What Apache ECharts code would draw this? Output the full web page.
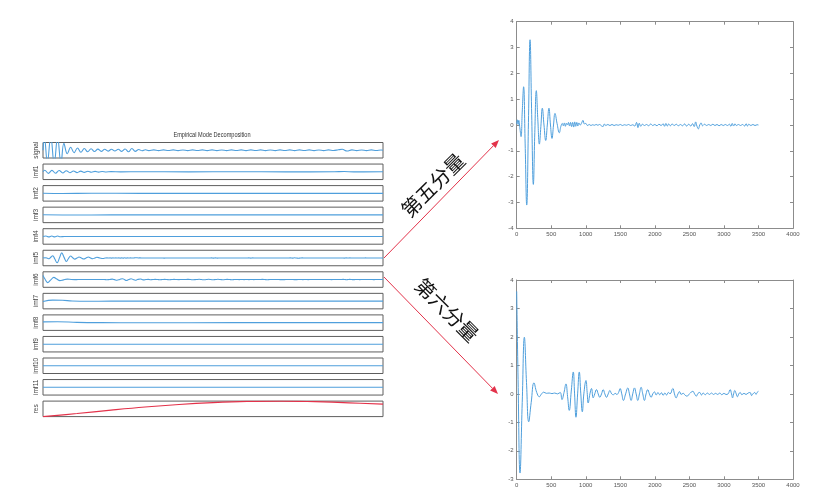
<!DOCTYPE html>
<html><head><meta charset="utf-8">
<script src="https://cdn.jsdelivr.net/npm/echarts@6.0.0/dist/echarts.min.js"></script>
<style>html,body{margin:0;padding:0;background:#fff}#c{width:831px;height:502px}</style>
</head><body><div id="c"></div>
<script>
// ---------- data ----------
const panelNames = ['signal','imf1','imf2','imf3','imf4','imf5','imf6','imf7','imf8','imf9','imf10','imf11','res'];
const panelRanges = [[-1,1],[-1,1],[-1,1],[-1,1],[-1,1],[-5,5],[-7,7],[-1,1],[-1,1],[-1,1],[-1,1],[-1,1],[0,1]];
const xTicks = [0,500,1000,1500,2000,2500,3000,3500,4000];
const yTicksTop = [-4,-3,-2,-1,0,1,2,3,4];
const yTicksBottom = [-3,-2,-1,0,1,2,3,4];
const titleText = 'Empirical Mode Decomposition';
const arrowLabels = ['第五分量','第六分量'];

const signalPairs = [[0,0],[15,1.6],[45,-1.6],[80,1.8],[115,-1.8],[150,1.7],[185,-1.7],[215,0.9],[250,-0.45],[285,0.38],[320,-0.32],[355,0.3],[390,-0.26],[425,0.22],[460,-0.2],[495,0.2],[530,-0.17],[565,0.15],[600,-0.14],[635,0.13],[670,-0.12],[705,0.12],[740,-0.1],[775,0.13],[810,-0.14],[845,0.17],[880,-0.2],[915,0.22],[950,-0.15],[985,0.1],[1020,-0.07],[1055,0.06],[1090,-0.05],[1140,0.05],[1190,-0.05],[1240,0.05],[1290,-0.04],[1340,0.05],[1390,-0.05],[1440,0.04],[1490,-0.05],[1540,0.05],[1590,-0.04],[1640,0.05],[1690,-0.05],[1740,0.05],[1790,-0.05],[1840,0.04],[1890,-0.05],[1940,0.05],[1990,-0.04],[2040,0.05],[2090,-0.05],[2140,0.05],[2190,-0.04],[2240,0.05],[2290,-0.05],[2340,0.04],[2390,-0.05],[2440,0.05],[2490,-0.04],[2540,0.05],[2590,-0.05],[2640,0.05],[2690,-0.04],[2740,0.05],[2790,-0.05],[2840,0.04],[2890,-0.05],[2940,0.05],[2990,-0.04],[3040,0.06],[3080,0.12],[3130,-0.1],[3180,0.05],[3230,-0.05],[3280,0.04],[3330,-0.05],[3380,0.05],[3430,-0.04],[3480,0.04],[3500,0]];
const imf1Pairs = [[0,0],[18,0.2],[55,-0.2],[92,0.19],[129,-0.18],[166,0.17],[203,-0.15],[240,0.14],[277,-0.12],[314,0.11],[351,-0.1],[388,0.09],[425,-0.08],[462,0.07],[499,-0.06],[536,0.05],[573,-0.04],[610,0.03],[650,-0.02],[700,0.02],[800,-0.01],[1000,0.01],[1500,-0.01],[2000,0.01],[2500,-0.01],[3000,0.01],[3100,0.03],[3200,-0.01],[3500,0]];
const imf2Pairs = [[0,0.02],[200,-0.01],[500,0.01],[1000,0],[2000,0],[3000,0],[3500,0]];
const imf3Pairs = [[0,0.01],[300,-0.01],[700,0],[1500,0],[2500,0],[3500,0]];
const imf4Pairs = [[0,0],[30,0.06],[60,-0.06],[90,0.06],[120,-0.06],[150,0.05],[180,-0.04],[220,0],[600,0],[1500,0],[2500,0],[3500,0]];
const imf5Pairs = [[0,0.05],[10,0.2],[20,0.02],[30,0.18],[45,-0.1],[63,-0.45],[80,0.5],[100,1.48],[122,-0.7],[145,-3.1],[170,0.1],[193,3.3],[217,0.4],[241,-2.3],[262,-0.3],[284,1.33],[306,0.2],[328,-0.74],[350,-0.05],[371,0.65],[395,0.0],[420,-0.6],[443,0.0],[467,0.65],[489,0.0],[511,-0.52],[533,0.0],[554,0.45],[585,0.05],[617,-0.3],[640,-0.05],[660,0.06],[675,-0.03],[690,0.08],[705,-0.05],[720,0.07],[735,0.0],[750,0.1],[765,-0.04],[780,0.1],[795,-0.06],[810,0.1],[825,-0.08],[840,0.12],[855,-0.05],[870,0.1],[885,-0.04],[900,0.08],[920,0.0],[940,0.08],[960,0.18],[980,0.04],[1000,0.06],[1025,-0.02],[1050,0.02],[1075,-0.02],[1100,0.01],[1125,-0.01],[1150,0.02],[1175,-0.01],[1200,0.02],[1225,-0.03],[1250,-0.06],[1270,0.04],[1290,-0.02],[1320,0.02],[1350,-0.02],[1380,0.02],[1410,-0.02],[1440,0.01],[1470,-0.01],[1500,0.02],[1530,-0.02],[1560,0.01],[1590,-0.01],[1620,0.02],[1650,-0.02],[1680,0.01],[1710,-0.04],[1735,0.1],[1755,-0.1],[1775,0.07],[1795,-0.05],[1820,0.03],[1850,-0.02],[1880,0.02],[1910,-0.03],[1940,0.04],[1970,-0.02],[2000,0.02],[2030,-0.03],[2060,0.03],[2090,-0.02],[2120,0.05],[2140,-0.05],[2160,0.06],[2180,-0.04],[2200,0.04],[2225,-0.03],[2250,0.04],[2280,-0.02],[2310,0.03],[2340,-0.03],[2370,0.02],[2400,-0.03],[2430,0.04],[2460,-0.04],[2490,0.03],[2520,-0.04],[2545,0.05],[2570,-0.06],[2590,0.12],[2610,-0.05],[2630,-0.15],[2650,0.0],[2670,0.08],[2690,-0.03],[2720,0.03],[2750,-0.02],[2780,0.02],[2810,-0.02],[2840,0.03],[2870,-0.02],[2900,0.02],[2930,-0.03],[2960,0.02],[2990,-0.02],[3020,0.02],[3050,-0.02],[3080,0.03],[3100,-0.05],[3120,0.06],[3140,-0.04],[3160,0.05],[3180,-0.02],[3210,0.02],[3240,-0.02],[3270,0.02],[3300,-0.04],[3320,0.05],[3340,-0.04],[3360,0.03],[3390,-0.02],[3420,0.02],[3450,-0.02],[3480,0.01],[3500,0.0]];
const imf6Pairs = [[0,3.6],[20,0.5],[48,-2.78],[80,-0.3],[111,1.99],[142,0.4],[174,-0.98],[210,-0.3],[250,0.39],[290,0.05],[328,-0.1],[360,0],[390,0.06],[430,0.02],[470,0.03],[510,0.01],[550,0.03],[590,0.0],[630,0.05],[655,-0.2],[685,0.05],[713,0.35],[737,-0.1],[761,-0.58],[790,0.1],[819,0.77],[838,0],[858,-0.82],[882,0],[906,0.77],[928,0],[950,-0.63],[972,0],[1003,0.47],[1020,0.05],[1035,-0.32],[1060,0],[1083,0.19],[1107,-0.14],[1130,0],[1155,0.15],[1180,0],[1203,-0.12],[1228,0],[1252,0.15],[1276,0],[1300,-0.12],[1325,0],[1349,0.12],[1375,0.0],[1400,-0.03],[1425,0.02],[1450,-0.02],[1475,0.05],[1497,0.19],[1521,0],[1545,-0.23],[1577,0],[1608,0.21],[1632,0],[1656,-0.23],[1680,0],[1705,0.21],[1729,0],[1753,-0.23],[1777,0],[1801,0.23],[1825,0],[1849,-0.23],[1873,0],[1897,0.15],[1921,0],[1946,-0.12],[1970,0],[1995,0.07],[2020,-0.04],[2045,0.05],[2070,-0.03],[2095,0.04],[2120,-0.05],[2145,0.03],[2170,-0.04],[2195,0.05],[2220,0.0],[2260,0.19],[2284,0],[2308,-0.14],[2335,0],[2357,0.08],[2380,-0.02],[2410,0.02],[2440,-0.05],[2465,-0.08],[2500,0],[2550,0.09],[2575,0],[2600,-0.08],[2625,0.02],[2650,0.05],[2675,-0.04],[2700,0.03],[2730,-0.03],[2760,0.03],[2790,-0.02],[2820,0.03],[2850,-0.02],[2880,0.02],[2910,-0.02],[2940,0.03],[2970,-0.03],[3000,0.02],[3030,-0.02],[3060,0.0],[3090,0.15],[3110,0],[3125,-0.14],[3140,0],[3157,0.12],[3178,0],[3195,-0.1],[3215,0],[3235,0.05],[3260,-0.03],[3290,0.02],[3320,-0.02],[3350,0.03],[3380,0.05],[3400,-0.06],[3420,0.0],[3445,0.05],[3465,-0.02],[3480,0.05],[3500,0.09]];
const imf7Pairs = [[0,-0.05],[100,0.12],[200,0.1],[300,0.02],[450,-0.02],[700,0],[1500,0],[2500,0],[3500,0]];
const imf8Pairs = [[0,0.1],[150,0.12],[350,0.04],[600,0],[1000,-0.02],[2000,0],[3500,0]];
const imf9Pairs = [[0,0],[1000,0],[2000,0],[3500,0]];
const imf10Pairs = [[0,0],[1000,0],[2000,0],[3500,0]];
const imf11Pairs = [[0,0],[1000,0],[2000,0],[3500,0]];
const resPairs = [[0,0],[350,0.2],[700,0.42],[1050,0.62],[1400,0.78],[1750,0.9],[2100,0.98],[2450,1.0],[2800,0.96],[3150,0.89],[3500,0.8]];

const panelData = [signalPairs,imf1Pairs,imf2Pairs,imf3Pairs,imf4Pairs,imf5Pairs,imf6Pairs,imf7Pairs,imf8Pairs,imf9Pairs,imf10Pairs,imf11Pairs,resPairs];

// ---------- build ----------
const chart = echarts.init(document.getElementById('c'), null, {renderer:'canvas'});
const blue = '#4f9fdc';
const red = '#e3324a';
const grids = [], xAxes = [], yAxes = [], series = [];

panelNames.forEach((name, i) => {
  grids.push({left:43, top:142.5 + i*21.55, width:340, height:15.5, show:true, borderColor:'#5e5e5e', borderWidth:1, backgroundColor:'#fff', containLabel:false});
  xAxes.push({gridIndex:i, type:'value', min:0, max:3500, show:false});
  yAxes.push({gridIndex:i, type:'value', min:panelRanges[i][0], max:panelRanges[i][1],
    axisLine:{show:false}, axisTick:{show:false}, axisLabel:{show:false}, splitLine:{show:false},
    name:name, nameLocation:'middle', nameGap:3, nameRotate:90,
    nameTextStyle:{fontSize:6.5, color:'#444', fontFamily:'Liberation Sans'}});
  series.push({type:'line', xAxisIndex:i, yAxisIndex:i, data:panelData[i], showSymbol:false, smooth:0.4,
    clip:true, silent:true, lineStyle:{color: name==='res'?red:blue, width: name==='res'?1.2:1.1}});
});

function addRight(top, height, yTicks, data) {
  grids.push({left:516.7, top:top, width:276.3, height:height, show:false});
  const gi = grids.length - 1;
  const axLine = {show:true, onZero:false, lineStyle:{color:'#8c8c8c', width:1}};
  const tick = {show:true, inside:true, length:3, lineStyle:{color:'#8c8c8c'}};
  const lbl = {fontSize:6, color:'#555', fontFamily:'Liberation Sans', margin:3, formatter:v => String(v)};
  const xmin = xTicks[0], xmax = xTicks[xTicks.length-1], xint = xTicks[1]-xTicks[0];
  const ymin = yTicks[0], ymax = yTicks[yTicks.length-1], yint = yTicks[1]-yTicks[0];
  xAxes.push({gridIndex:gi, type:'value', position:'bottom', min:xmin, max:xmax, interval:xint, axisLine:axLine, axisTick:tick, axisLabel:lbl, splitLine:{show:false}});
  const xb = xAxes.length - 1;
  xAxes.push({gridIndex:gi, type:'value', position:'top', min:xmin, max:xmax, interval:xint, axisLine:axLine, axisTick:tick, axisLabel:{show:false}, splitLine:{show:false}});
  yAxes.push({gridIndex:gi, type:'value', position:'left', min:ymin, max:ymax, interval:yint, axisLine:axLine, axisTick:tick, axisLabel:lbl, splitLine:{show:false}});
  const yl = yAxes.length - 1;
  yAxes.push({gridIndex:gi, type:'value', position:'right', min:ymin, max:ymax, interval:yint, axisLine:axLine, axisTick:tick, axisLabel:{show:false}, splitLine:{show:false}});
  series.push({type:'line', xAxisIndex:xb, yAxisIndex:yl, data:data, showSymbol:false, smooth:0.45, silent:true, lineStyle:{color:blue, width:1}});
}
addRight(21.7, 206.6, yTicksTop, imf5Pairs);
addRight(280, 199.3, yTicksBottom, imf6Pairs);

function arrow(x1, y1, x2, y2) {
  const ang = Math.atan2(y2 - y1, x2 - x1), L = 8, W = 3.2;
  const bx = x2 - L*Math.cos(ang), by = y2 - L*Math.sin(ang);
  const px = -Math.sin(ang)*W, py = Math.cos(ang)*W;
  return [
    {type:'line', shape:{x1:x1, y1:y1, x2:bx, y2:by}, style:{stroke:red, lineWidth:1}, silent:true},
    {type:'polygon', shape:{points:[[x2,y2],[bx+px,by+py],[bx-px,by-py]]}, style:{fill:red}, silent:true}
  ];
}

const graphic = [
  {type:'text', x:212, y:135.5, scaleX:0.8, style:{text:titleText, fontSize:7, fill:'#333', fontFamily:'Liberation Sans', align:'center', verticalAlign:'middle'}, silent:true},
  ...arrow(384, 258, 499, 140),
  ...arrow(384, 277, 498, 394),
  {type:'text', x:433, y:185, rotation:Math.PI/4, style:{text:arrowLabels[0], fontSize:20, fill:'#111', fontFamily:'Noto Sans CJK SC', align:'center', verticalAlign:'middle'}, silent:true},
  {type:'text', x:447, y:310, rotation:-Math.PI/4, style:{text:arrowLabels[1], fontSize:20, fill:'#111', fontFamily:'Noto Sans CJK SC', align:'center', verticalAlign:'middle'}, silent:true}
];

chart.setOption({animation:false, backgroundColor:'#fff', grid:grids, xAxis:xAxes, yAxis:yAxes, series:series, graphic:graphic});
</script></body></html>
